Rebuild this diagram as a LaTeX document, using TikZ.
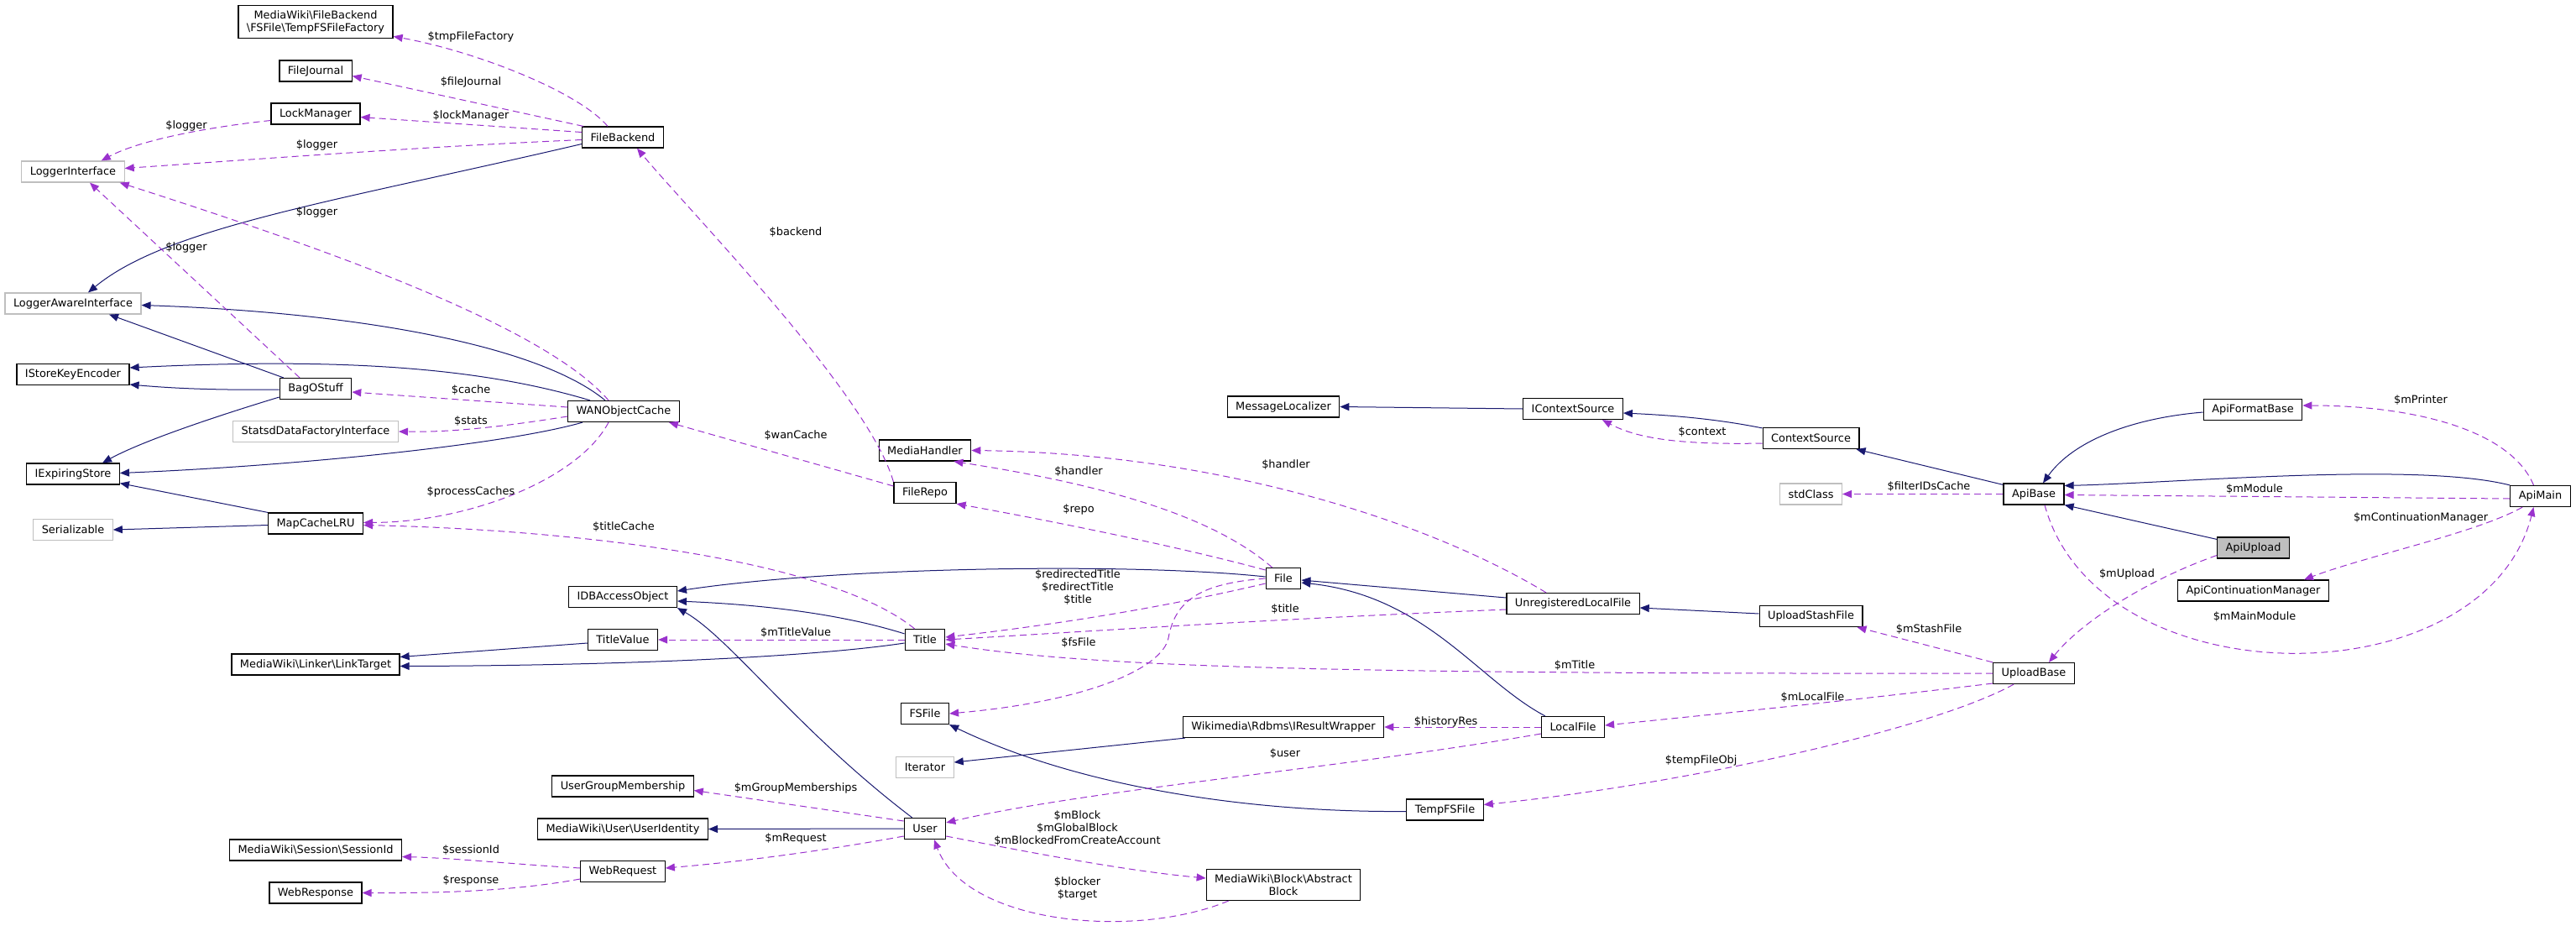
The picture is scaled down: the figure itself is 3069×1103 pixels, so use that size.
\documentclass[tikz,border=0pt]{standalone}
\usepackage{fontspec}
\setmainfont{DejaVu Sans}
\usetikzlibrary{arrows.meta,calc}
\definecolor{inhblue}{HTML}{191970}
\definecolor{usepurple}{HTML}{9A32CD}
\definecolor{boxgray}{HTML}{BFBFBF}
\newcommand\dxfont{\fontsize{6.45}{7.5}\selectfont}
\newcommand\bs{\textbackslash}
\tikzset{
  cls/.style={draw=black, fill=white, line width=0.6pt, inner xsep=5pt, inner ysep=3pt, minimum height=12.5pt, align=center, font=\dxfont},
  ext/.style={cls, draw=boxgray},
  cur/.style={cls, fill=boxgray},
  inh/.style={draw=inhblue, line width=0.5pt, -{Triangle[length=5.5pt,width=4.5pt]}},
  use/.style={draw=usepurple, line width=0.5pt, dash pattern=on 4pt off 2.5pt, -{Triangle[length=5.5pt,width=4.5pt]}},
  lbl/.style={inner sep=0pt, align=center, font=\dxfont},
}
\begin{document}
\begin{tikzpicture}[x=0.5pt, y=-0.5pt]
\useasboundingbox (0,0) rectangle (3069,1103);

% classes
\node[ext] (LoggerInterface) at (87,204.5) {LoggerInterface};
\node[ext] (LoggerAwareInterface) at (87,361.5) {LoggerAwareInterface};
\node[cls] (IStoreKeyEncoder) at (87,446) {IStoreKeyEncoder};
\node[cls] (IExpiringStore) at (87,564.5) {IExpiringStore};
\node[ext] (Serializable) at (87,631) {Serializable};

\node[cls] (TempFSFileFactory) at (376,26) {MediaWiki\bs FileBackend\\\bs FSFile\bs TempFSFileFactory};
\node[cls] (FileJournal) at (376,84.5) {FileJournal};
\node[cls] (LockManager) at (376,135.5) {LockManager};
\node[cls] (BagOStuff) at (376,463) {BagOStuff};
\node[ext] (StatsdDataFactoryInterface) at (376,514) {StatsdDataFactoryInterface};
\node[cls] (MapCacheLRU) at (376,623.5) {MapCacheLRU};
\node[cls] (LinkTarget) at (376,791.5) {MediaWiki\bs Linker\bs LinkTarget};
\node[cls] (SessionId) at (376,1012.5) {MediaWiki\bs Session\bs SessionId};
\node[cls] (WebResponse) at (376,1063.5) {WebResponse};

\node[cls] (FileBackend) at (742,163.5) {FileBackend};
\node[cls] (WANObjectCache) at (743,490) {WANObjectCache};
\node[cls] (IDBAccessObject) at (742,711) {IDBAccessObject};
\node[cls] (TitleValue) at (742,762) {TitleValue};
\node[cls] (UserGroupMembership) at (742,936.5) {UserGroupMembership};
\node[cls] (UserIdentity) at (742,987.5) {MediaWiki\bs User\bs UserIdentity};
\node[cls] (WebRequest) at (742,1038) {WebRequest};

\node[cls] (MediaHandler) at (1102,536.5) {MediaHandler};
\node[cls] (FileRepo) at (1102,587) {FileRepo};
\node[cls] (Title) at (1102,762) {Title};
\node[cls] (FSFile) at (1102,850) {FSFile};
\node[ext] (Iterator) at (1102,914) {Iterator};
\node[cls] (User) at (1102,987) {User};

\node[cls] (MessageLocalizer) at (1529,484.5) {MessageLocalizer};
\node[cls] (File) at (1529,689) {File};
\node[cls] (IResultWrapper) at (1529,866) {Wikimedia\bs Rdbms\bs IResultWrapper};
\node[cls] (AbstractBlock) at (1529,1054) {MediaWiki\bs Block\bs Abstract\\Block};
\node[cls] (TempFSFile) at (1721.5,964.5) {TempFSFile};

\node[cls] (IContextSource) at (1874,487) {IContextSource};
\node[cls] (UnregisteredLocalFile) at (1874,719) {UnregisteredLocalFile};
\node[cls] (LocalFile) at (1874,866) {LocalFile};

\node[cls] (ContextSource) at (2157.5,522) {ContextSource};
\node[ext] (stdClass) at (2157.5,588.5) {stdClass};
\node[cls] (UploadStashFile) at (2157.5,734) {UploadStashFile};

\node[cls] (ApiBase) at (2423,588.5) {ApiBase};
\node[cls] (UploadBase) at (2423,802) {UploadBase};

\node[cls] (ApiFormatBase) at (2684,488) {ApiFormatBase};
\node[cur] (ApiUpload) at (2684.5,652.5) {ApiUpload};
\node[cls] (ApiContinuationManager) at (2684.5,703.5) {ApiContinuationManager};
\node[cls] (ApiMain) at (3026.5,591) {ApiMain};

% inheritance
\draw[inh] ($(FileBackend.west)+(0,8)$) .. controls (400,240) and (200,270) .. ($(LoggerAwareInterface.north)+(18,0)$);
\draw[inh] ($(BagOStuff.north west)+(5,0)$) -- ($(LoggerAwareInterface.south)+(43,0)$);
\draw[inh] ($(WANObjectCache.north)+(-22,0)$) .. controls (640,410) and (420,372) .. ($(LoggerAwareInterface.east)+(0,2)$);
\draw[inh] ($(WANObjectCache.north)+(-40,0)$) .. controls (580,440) and (420,425) .. ($(IStoreKeyEncoder.east)+(0,-8)$);
\draw[inh] ($(BagOStuff.west)+(0,1)$) .. controls (250,465) and (200,462) .. ($(IStoreKeyEncoder.east)+(0,12)$);
\draw[inh] ($(BagOStuff.west)+(0,10)$) .. controls (260,495) and (170,525) .. ($(IExpiringStore.north)+(35,0)$);
\draw[inh] ($(WANObjectCache.south west)+(18,0)$) .. controls (600,530) and (350,555) .. ($(IExpiringStore.east)+(0,-1)$);
\draw[inh] (MapCacheLRU.north west) -- ($(IExpiringStore.south east)+(0,-2)$);
\draw[inh] ($(MapCacheLRU.west)+(0,2)$) -- (Serializable.east);
\draw[inh] ($(File.west)+(0,-2)$) .. controls (1350,670) and (1000,675) .. ($(IDBAccessObject.east)+(0,-7)$);
\draw[inh] ($(Title.north west)+(0,6)$) .. controls (1030,740) and (950,722) .. ($(IDBAccessObject.east)+(0,5)$);
\draw[inh] ($(User.north west)+(10,0)$) .. controls (950,870) and (870,760) .. (IDBAccessObject.south east);
\draw[inh] ($(TitleValue.west)+(0,4)$) -- ($(LinkTarget.east)+(0,-9)$);
\draw[inh] ($(Title.west)+(0,4)$) .. controls (950,785) and (700,793) .. ($(LinkTarget.east)+(0,2)$);
\draw[inh] (User.west) -- (UserIdentity.east);
\draw[inh] ($(IResultWrapper.south west)+(3,0)$) -- ($(Iterator.east)+(0,-6)$);
\draw[inh] ($(TempFSFile.west)+(0,2)$) .. controls (1480,968) and (1280,935) .. (FSFile.south east);
\draw[inh] ($(UnregisteredLocalFile.west)+(0,-7)$) -- ($(File.east)+(0,2)$);
\draw[inh] ($(LocalFile.north west)+(5,0)$) .. controls (1760,810) and (1700,710) .. ($(File.east)+(0,5)$);
\draw[inh] ($(UploadStashFile.west)+(0,-3)$) -- ($(UnregisteredLocalFile.east)+(0,5)$);
\draw[inh] (IContextSource.west) -- (MessageLocalizer.east);
\draw[inh] ($(ContextSource.north west)+(0,1)$) .. controls (2050,500) and (2000,495) .. ($(IContextSource.east)+(0,5)$);
\draw[inh] ($(ApiBase.north west)+(0,2)$) -- ($(ContextSource.south east)+(-4,0)$);
\draw[inh] ($(ApiFormatBase.west)+(0,3)$) .. controls (2540,498) and (2470,525) .. ($(ApiBase.north)+(11,0)$);
\draw[inh] (ApiMain.north west) .. controls (2880,550) and (2600,575) .. ($(ApiBase.east)+(0,-10)$);
\draw[inh] ($(ApiUpload.north west)+(0,3)$) -- ($(ApiBase.east)+(0,13)$);

% usage
\draw[use] ($(FileBackend.north)+(-18,0)$) .. controls (690,110) and (570,62) .. ($(TempFSFileFactory.south east)+(0,-3)$);
\draw[use] ($(FileBackend.north west)+(2,0)$) -- ($(FileJournal.east)+(0,6)$);
\draw[use] ($(FileBackend.west)+(0,-6)$) -- ($(LockManager.east)+(0,4)$);
\draw[use] ($(LockManager.west)+(0,8)$) .. controls (260,150) and (170,165) .. ($(LoggerInterface.north east)+(-28,0)$);
\draw[use] ($(FileBackend.west)+(0,3)$) .. controls (500,175) and (300,190) .. ($(LoggerInterface.east)+(0,-4)$);
\draw[use] ($(WANObjectCache.north)+(-18,0)$) .. controls (650,390) and (400,300) .. ($(LoggerInterface.south east)+(-6,0)$);
\draw[use] ($(BagOStuff.north)+(-19,0)$) -- ($(LoggerInterface.south)+(20,0)$);
\draw[use] ($(WANObjectCache.west)+(0,-5)$) -- ($(BagOStuff.east)+(0,4)$);
\draw[use] ($(WANObjectCache.west)+(0,6)$) .. controls (600,508) and (540,515) .. (StatsdDataFactoryInterface.east);
\draw[use] ($(WANObjectCache.south)+(-18,0)$) .. controls (690,570) and (560,622) .. ($(MapCacheLRU.east)+(0,-1)$);
\draw[use] ($(Title.north west)+(12,0)$) .. controls (980,660) and (650,630) .. ($(MapCacheLRU.east)+(0,2)$);
\draw[use] (FileRepo.north west) .. controls (1035,470) and (820,250) .. ($(FileBackend.south east)+(-32,0)$);
\draw[use] ($(FileRepo.west)+(0,-8)$) -- ($(WANObjectCache.south east)+(-13,0)$);
\draw[use] ($(File.north west)+(8,0)$) .. controls (1440,610) and (1300,575) .. ($(MediaHandler.south east)+(-21,0)$);
\draw[use] ($(UnregisteredLocalFile.north)+(-32,0)$) .. controls (1700,620) and (1450,540) .. (MediaHandler.east);
\draw[use] ($(File.west)+(0,-10)$) .. controls (1400,650) and (1250,620) .. (FileRepo.south east);
\draw[use] ($(File.west)+(0,6)$) .. controls (1380,725) and (1250,745) .. ($(Title.east)+(0,-3)$);
\draw[use] (File.west) .. controls (1430,695) and (1400,715) .. (1392,760) .. controls (1385,795) and (1300,835) .. (FSFile.east);
\draw[use] ($(UnregisteredLocalFile.west)+(0,7)$) .. controls (1500,738) and (1300,752) .. (Title.east);
\draw[use] (Title.west) -- (TitleValue.east);
\draw[use] (UploadBase.west) .. controls (1600,803) and (1300,795) .. ($(Title.east)+(0,5)$);
\draw[use] (LocalFile.west) -- (IResultWrapper.east);
\draw[use] ($(LocalFile.west)+(0,8)$) .. controls (1600,915) and (1300,940) .. ($(User.north east)+(0,6)$);
\draw[use] ($(User.west)+(0,-9)$) -- ($(UserGroupMembership.east)+(0,5)$);
\draw[use] ($(User.west)+(0,9)$) .. controls (1000,1010) and (900,1025) .. ($(WebRequest.east)+(0,-4)$);
\draw[use] ($(WebRequest.west)+(0,-4)$) .. controls (620,1030) and (540,1022) .. ($(SessionId.east)+(0,8)$);
\draw[use] ($(WebRequest.west)+(0,9)$) .. controls (620,1060) and (540,1064) .. (WebResponse.east);
\draw[use] ($(User.east)+(0,9)$) .. controls (1250,1020) and (1350,1038) .. ($(AbstractBlock.west)+(0,-8)$);
\draw[use] ($(AbstractBlock.south west)+(27,0)$) .. controls (1350,1120) and (1150,1100) .. ($(User.south)+(11,0)$);
\draw[use] ($(ContextSource.west)+(0,6)$) .. controls (2000,530) and (1950,522) .. ($(IContextSource.south east)+(-25,0)$);
\draw[use] (ApiBase.west) -- (stdClass.east);
\draw[use] (UploadBase.north west) -- ($(UploadStashFile.south east)+(-7,0)$);
\draw[use] ($(UploadBase.west)+(0,12)$) .. controls (2200,835) and (2050,850) .. ($(LocalFile.east)+(0,-2)$);
\draw[use] ($(UploadBase.south west)+(25,0)$) .. controls (2300,870) and (2000,935) .. ($(TempFSFile.east)+(0,-6)$);
\draw[use] ($(ApiUpload.west)+(0,9)$) .. controls (2560,690) and (2480,740) .. ($(UploadBase.north)+(18,0)$);
\draw[use] ($(ApiMain.west)+(0,3)$) -- ($(ApiBase.east)+(0,1)$);
\draw[use] ($(ApiBase.south)+(13,0)$) .. controls (2500,835) and (2960,835) .. ($(ApiMain.south)+(-8,0)$);
\draw[use] ($(ApiMain.north)+(-8,0)$) .. controls (2990,510) and (2870,483) .. ($(ApiFormatBase.east)+(0,-5)$);
\draw[use] ($(ApiMain.south west)+(15,0)$) .. controls (2950,635) and (2820,662) .. ($(ApiContinuationManager.north east)+(-30,0)$);

% member names
\node[lbl] (lTmpFileFactory) at (561,44) {\$tmpFileFactory};
\node[lbl] (lFileJournal) at (561,98) {\$fileJournal};
\node[lbl] (lLockManager) at (561,138) {\$lockManager};
\node[lbl] (lLoggerLM) at (222,150) {\$logger};
\node[lbl] (lLoggerFB) at (377.5,172.7) {\$logger};
\node[lbl] (lLoggerWAN) at (377.5,252.7) {\$logger};
\node[lbl] (lLoggerBag) at (222,294.7) {\$logger};
\node[lbl] (lCache) at (561,465) {\$cache};
\node[lbl] (lStats) at (561,501.7) {\$stats};
\node[lbl] (lProcessCaches) at (561,585.7) {\$processCaches};
\node[lbl] (lTitleCache) at (743,628) {\$titleCache};
\node[lbl] (lBackend) at (948,277) {\$backend};
\node[lbl] (lWanCache) at (948,518.6) {\$wanCache};
\node[lbl] (lHandlerFile) at (1285,561.5) {\$handler};
\node[lbl] (lHandlerULF) at (1532,553.6) {\$handler};
\node[lbl] (lRepo) at (1285,607) {\$repo};
\node[lbl] (lRedirect) at (1284,700) {\$redirectedTitle\\\$redirectTitle\\\$title};
\node[lbl] (lMTitleValue) at (948,753.6) {\$mTitleValue};
\node[lbl] (lTitleULF) at (1531,726) {\$title};
\node[lbl] (lFsFile) at (1285,765.5) {\$fsFile};
\node[lbl] (lUser) at (1531,897.6) {\$user};
\node[lbl] (lGroupMemberships) at (948,938.6) {\$mGroupMemberships};
\node[lbl] (lMRequest) at (948,998.5) {\$mRequest};
\node[lbl] (lMBlock) at (1283.5,987) {\$mBlock\\\$mGlobalBlock\\\$mBlockedFromCreateAccount};
\node[lbl] (lBlocker) at (1283.5,1058) {\$blocker\\\$target};
\node[lbl] (lSessionId) at (561,1013) {\$sessionId};
\node[lbl] (lResponse) at (561,1049) {\$response};
\node[lbl] (lHistoryRes) at (1722.6,860) {\$historyRes};
\node[lbl] (lMTitle) at (1876,793) {\$mTitle};
\node[lbl] (lContext) at (2028,515) {\$context};
\node[lbl] (lFilterIDsCache) at (2298,580) {\$filterIDsCache};
\node[lbl] (lMStashFile) at (2298,749.6) {\$mStashFile};
\node[lbl] (lMLocalFile) at (2159.5,830.7) {\$mLocalFile};
\node[lbl] (lTempFileObj) at (2026.7,905.7) {\$tempFileObj};
\node[lbl] (lMPrinter) at (2884,476.7) {\$mPrinter};
\node[lbl] (lMModule) at (2686,582.7) {\$mModule};
\node[lbl] (lMContinuation) at (2884,616.7) {\$mContinuationManager};
\node[lbl] (lMUpload) at (2534,684) {\$mUpload};
\node[lbl] (lMMainModule) at (2686,734.7) {\$mMainModule};
\end{tikzpicture}
\end{document}
